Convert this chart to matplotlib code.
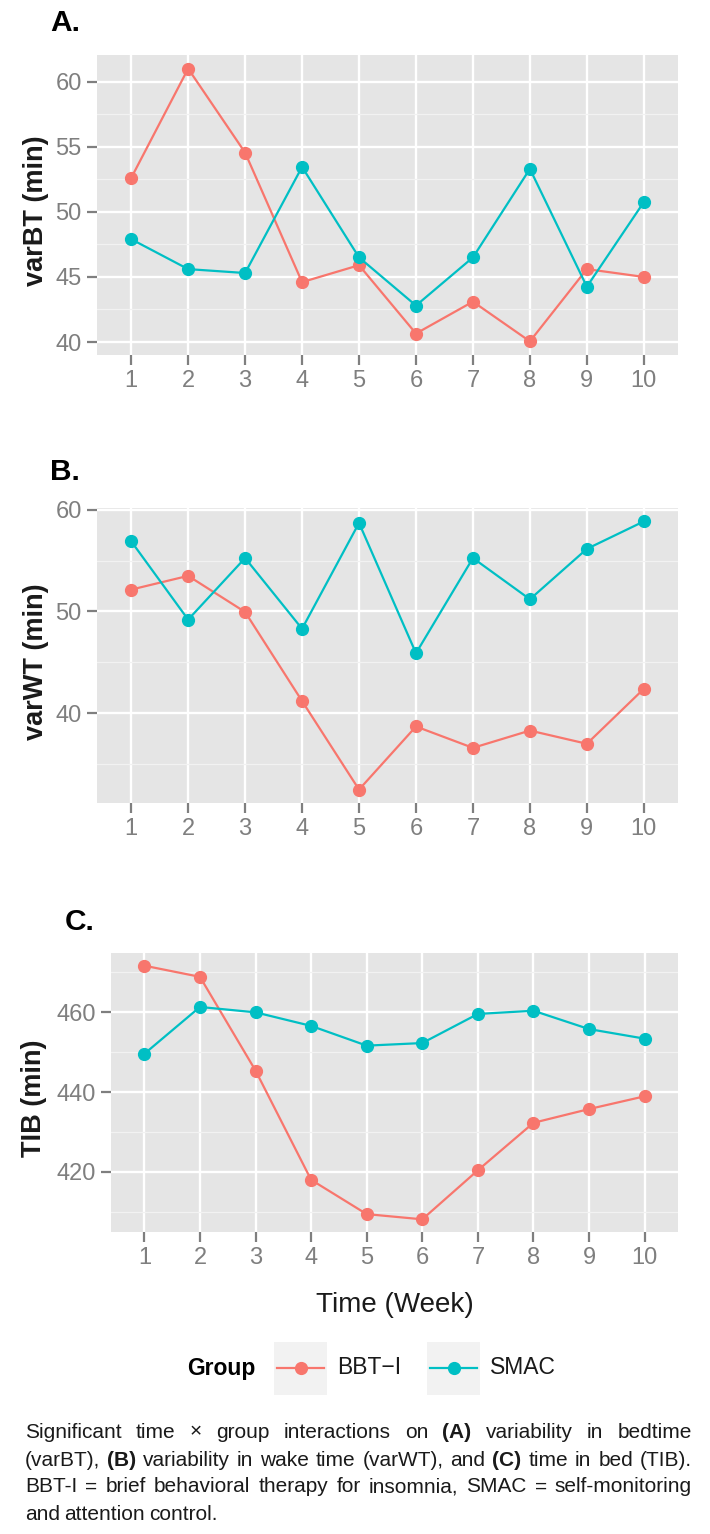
import matplotlib
matplotlib.use("Agg")
import matplotlib.pyplot as plt
from matplotlib.lines import Line2D
from matplotlib.patches import Rectangle
from matplotlib.ticker import MultipleLocator, NullLocator

plt.rcParams['font.family'] = ['Liberation Sans', 'DejaVu Sans']

# data
weeks = [1, 2, 3, 4, 5, 6, 7, 8, 9, 10]
groups = ["BBT\u2212I", "SMAC"]
colors = ["#F8766D", "#00BFC4"]

varbt_bbti = [52.6, 61.0, 54.55, 44.6, 45.9, 40.65, 43.1, 40.05, 45.6, 45.0]
varbt_smac = [47.9, 45.6, 45.3, 53.45, 46.5, 42.8, 46.5, 53.3, 44.25, 50.75]
varwt_bbti = [52.15, 53.5, 49.95, 41.2, 32.5, 38.7, 36.6, 38.3, 37.0, 42.4]
varwt_smac = [56.9, 49.2, 55.25, 48.3, 58.7, 45.9, 55.25, 51.2, 56.15, 58.85]
tib_bbti = [471.7, 468.9, 445.4, 418.0, 409.4, 408.1, 420.4, 432.3, 435.75, 438.95]
tib_smac = [449.6, 461.35, 460.0, 456.6, 451.65, 452.3, 459.6, 460.4, 455.8, 453.4]

ylabels = ["varBT (min)", "varWT (min)", "TIB (min)"]
tags = ["A.", "B.", "C."]
ysteps = [5, 10, 20]

caption = [
    "Significant time \u00d7 group interactions on (A) variability in bedtime",
    "(varBT), (B) variability in wake time (varWT), and (C) time in bed (TIB).",
    "BBT-I = brief behavioral therapy for insomnia, SMAC = self-monitoring",
    "and attention control.",
]
bold_words = {"(A)", "(B)", "(C)"}

W, H = 710, 1534
fig = plt.figure(figsize=(W / 100, H / 100), dpi=100)

# panel boxes in pixels: left, top, right, bottom
boxes = [(97, 55, 678, 355), (97, 508, 678, 803), (111, 953, 678, 1232)]
series = [(varbt_bbti, varbt_smac), (varwt_bbti, varwt_smac), (tib_bbti, tib_smac)]

tick_grey = "#7F7F7F"
for (l, t, r, b), data, step in zip(boxes, series, ysteps):
    ax = fig.add_axes([l / W, 1 - b / H, (r - l) / W, (b - t) / H])
    ax.set_facecolor("#E5E5E5")
    for vals, c in zip(data, colors):
        ax.plot(weeks, vals, color=c, lw=1.6, marker="o", ms=8.5, zorder=3)
    lo = min(min(d) for d in data)
    hi = max(max(d) for d in data)
    pad = 0.05 * (hi - lo)
    ax.set_ylim(lo - pad, hi + pad)
    ax.set_xlim(0.4, 10.6)
    ax.set_xticks(weeks)
    ax.xaxis.set_minor_locator(NullLocator())
    ax.yaxis.set_major_locator(MultipleLocator(step))
    ax.yaxis.set_minor_locator(MultipleLocator(step / 2))
    ax.grid(which="major", color="white", lw=1.7)
    ax.grid(which="minor", axis="y", color="#F2F2F2", lw=0.9)
    ax.set_axisbelow(True)
    for s in ax.spines.values():
        s.set_visible(False)
    ax.tick_params(which="major", length=7, width=1.6, color=tick_grey,
                   labelcolor=tick_grey, labelsize=17, pad=4)
    ax.tick_params(which="minor", length=0)

# overlay in pixel coordinates for the free text and the legend
ov = fig.add_axes([0, 0, 1, 1], zorder=10)
ov.set_xlim(0, W)
ov.set_ylim(H, 0)
ov.axis("off")

tag_x = [50, 50, 65]
tag_y = [23, 472, 922]
for tag, x, y in zip(tags, tag_x, tag_y):
    ov.text(x, y, tag, fontsize=21.5, fontweight="bold", ha="left", va="center")

ylab_x = [36, 36, 34]
for (l, t, r, b), lab, x in zip(boxes, ylabels, ylab_x):
    ov.text(x, (t + b) / 2 + 6, lab, rotation=90, fontsize=19.5, fontweight="bold",
            ha="center", va="center", color="#1A1A1A")

ov.text(395, 1305, "Time (Week)", fontsize=20, ha="center", va="center", color="#1A1A1A")

# legend
ov.text(187, 1368, "Group", fontsize=16.5, fontweight="bold", ha="left", va="center")
key_x = [274, 427]
for kx, g, c in zip(key_x, groups, colors):
    ov.add_patch(Rectangle((kx, 1342), 53, 53, facecolor="#F2F2F2", edgecolor="none"))
    ov.add_line(Line2D([kx + 3, kx + 50], [1368, 1368], color=c, lw=1.6))
    ov.plot([kx + 26.5], [1368], marker="o", ms=8.5, color=c)
    ov.text(kx + 63, 1368, g, fontsize=16.5, ha="left", va="center", color="#1A1A1A")

# justified caption
renderer = fig.canvas.get_renderer()
left, right = 25, 692
line_y = [1432, 1460, 1487, 1515]
for i, (line, y) in enumerate(zip(caption, line_y)):
    words = line.split(" ")
    texts = []
    for w in words:
        t = ov.text(0, y, w, fontsize=15, ha="left", va="center", color="#1A1A1A",
                    fontweight="bold" if w in bold_words else "normal")
        texts.append(t)
    widths = [t.get_window_extent(renderer).width for t in texts]
    if i < len(caption) - 1:
        gap = (right - left - sum(widths)) / (len(words) - 1)
    else:
        gap = 4.2
    x = left
    for t, w in zip(texts, widths):
        t.set_x(x)
        x += w + gap

fig.savefig("out.png", dpi=100)
